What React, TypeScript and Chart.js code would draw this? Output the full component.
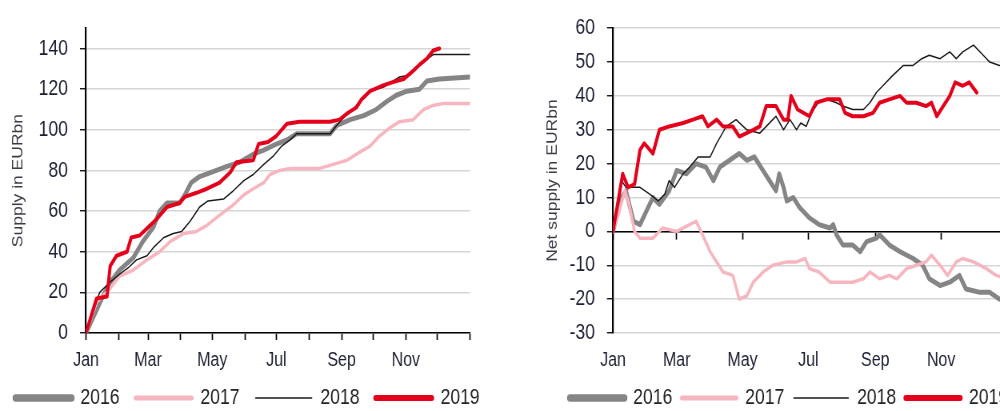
import React, { useEffect, useRef } from 'react';
import { Chart, registerables } from 'chart.js';
Chart.register(...registerables);

// ---------- data ----------
const seriesNames = ['2016', '2017', '2018', '2019'];
const monthStarts = [0, 31, 59, 90, 120, 151, 181, 212, 243, 273, 304, 334, 365];
const monthNames = ['Jan', 'Feb', 'Mar', 'Apr', 'May', 'Jun', 'Jul', 'Aug', 'Sep', 'Oct', 'Nov', 'Dec', ''];
const labelledMonths = ['Jan', 'Mar', 'May', 'Jul', 'Sep', 'Nov'];
const zeroAxisTicks = [0, 59, 120, 181, 243, 304];
const supplyTicks = [0, 20, 40, 60, 80, 100, 120, 140];
const netTicks = [-30, -20, -10, 0, 10, 20, 30, 40, 50, 60];

// Left panel: cumulative supply (EURbn) by day of year
const supply2016Days = [0, 16, 23, 32, 45, 54, 64, 70, 77, 89, 94, 100, 108, 124, 134, 146, 159, 169, 181, 191, 200, 232, 238, 251, 264, 276, 286, 295, 305, 317, 324, 336, 365];
const supply2016Vals = [0, 18, 25, 31, 37, 45, 52, 60, 64, 64, 68, 74, 77, 80, 82, 84, 88, 90, 93, 95, 98, 98, 102, 105, 107, 110, 114, 117, 119, 120, 124, 125, 126];
const supply2017Days = [0, 10, 23, 32, 45, 58, 70, 80, 93, 105, 115, 127, 140, 150, 159, 169, 175, 184, 194, 222, 235, 248, 257, 270, 279, 289, 298, 311, 321, 330, 340, 365];
const supply2017Vals = [0, 15, 22, 28, 31, 36, 40, 45, 49, 50, 53, 58, 63, 68, 71, 74, 78, 80, 81, 81, 83, 85, 88, 92, 97, 101, 104, 105, 110, 112, 113, 113];
const supply2018Days = [0, 13, 23, 32, 40, 48, 58, 64, 74, 83, 91, 99, 108, 116, 131, 140, 150, 159, 169, 178, 186, 194, 200, 232, 238, 245, 254, 260, 270, 283, 298, 308, 317, 330, 365];
const supply2018Vals = [0, 20, 25, 29, 32, 36, 38, 42, 47, 49, 50, 55, 62, 65, 66, 70, 75, 78, 83, 87, 92, 95, 98, 98, 102, 106, 110, 114, 119, 121, 126, 127, 132, 137, 137];
const supply2019Days = [0, 10, 20, 23, 29, 39, 43, 51, 59, 67, 77, 89, 94, 105, 115, 127, 137, 143, 159, 164, 173, 181, 191, 203, 232, 241, 248, 257, 262, 270, 283, 295, 302, 311, 317, 324, 330, 336];
const supply2019Vals = [0, 17, 18, 33, 38, 40, 47, 48, 52, 56, 62, 64, 67, 69, 71, 74, 79, 84, 85, 93, 94, 97, 103, 104, 104, 105, 108, 111, 115, 119, 122, 124, 125, 129, 132, 135, 139, 140];

// Right panel: net supply (EURbn) by day of year
const net2016Days = [0, 8, 12, 19, 25, 31, 37, 43, 52, 59, 68, 77, 86, 93, 99, 108, 117, 124, 131, 139, 145, 151, 154, 158, 161, 167, 173, 182, 191, 201, 204, 207, 213, 222, 229, 235, 244, 247, 256, 266, 278, 287, 293, 303, 312, 321, 327, 340, 349, 358, 365];
const net2016Vals = [0, 10, 12, 3, 2, 6, 10, 8, 12, 18, 17, 20, 19, 15, 19, 21, 23, 21, 22, 18, 15, 12, 17, 13, 9, 10, 7, 4, 2, 1, 2, -1, -4, -4, -6, -3, -2, -1, -4, -6, -8, -10, -14, -16, -15, -13, -17, -18, -18, -20, -20];
const net2017Days = [0, 5, 11, 15, 20, 25, 37, 46, 59, 71, 77, 83, 90, 96, 102, 111, 117, 124, 130, 139, 148, 161, 170, 178, 182, 191, 201, 222, 232, 238, 247, 256, 263, 272, 281, 290, 295, 303, 310, 318, 324, 334, 346, 355, 365];
const net2017Vals = [0, 5, 12, 8, 0, -2, -2, 1, 0, 2, 3, -1, -6, -9, -12, -13, -20, -19, -15, -12, -10, -9, -9, -8, -11, -12, -15, -15, -14, -12, -14, -13, -14, -11, -10, -9, -7, -10, -13, -9, -8, -9, -11, -13, -14];
const net2018Days = [0, 8, 12, 25, 34, 42, 48, 52, 57, 65, 71, 79, 90, 96, 105, 114, 124, 136, 142, 148, 151, 158, 164, 170, 174, 179, 184, 190, 198, 207, 213, 222, 232, 238, 244, 250, 259, 269, 278, 286, 293, 303, 312, 318, 324, 334, 343, 349, 358, 365];
const net2018Vals = [0, 15, 13, 13, 11, 9, 11, 15, 13, 17, 19, 22, 22, 26, 31, 33, 30, 29, 31, 33, 34, 30, 33, 30, 32, 31, 35, 38, 39, 38, 37, 36, 36, 38, 41, 43, 46, 49, 49, 51, 52, 51, 53, 51, 53, 55, 52, 50, 49, 49];
const net2019Days = [0, 9, 14, 20, 25, 29, 37, 43, 52, 65, 74, 83, 88, 96, 102, 111, 117, 130, 136, 142, 151, 158, 162, 165, 171, 182, 188, 198, 210, 215, 222, 232, 241, 247, 256, 266, 272, 281, 290, 295, 300, 306, 312, 317, 324, 330, 337];
const net2019Vals = [0, 17, 13, 14, 24, 26, 23, 30, 31, 32, 33, 34, 31, 33, 31, 31, 28, 30, 31, 37, 37, 33, 33, 40, 36, 34, 38, 39, 39, 35, 34, 34, 35, 38, 39, 40, 38, 38, 37, 38, 34, 37, 40, 44, 43, 44, 41];

// ---------- styles ----------
const FONT = "'Liberation Sans', Arial, sans-serif";
const SQUEEZE = 0.8; // the reference is horizontally condensed
const CANVAS_H = 430;
const lineColors = ['#858585', '#f7b6bf', '#1a1a1a', '#e4001b'];
const lineWidths = [5, 3.5, 1.5, 4];
const legendWidths = [7.5, 5, 1.6, 6];
const drawOrder = [3, 2, 1, 0];
const tickColor = '#1c1f33';
const gridColor = '#d6d6d6';

const pts = (days: number[], vals: number[]) =>
  days.slice(0, Math.min(days.length, vals.length)).map((d, i) => ({ x: d, y: vals[i] }));

function makeDatasets(series: { x: number; y: number }[][]) {
  return series.map((data, i) => ({
    label: seriesNames[i],
    data,
    borderColor: lineColors[i],
    backgroundColor: lineColors[i],
    borderWidth: lineWidths[i],
    borderCapStyle: 'round' as const,
    borderJoinStyle: 'round' as const,
    pointRadius: 0,
    tension: 0,
    fill: false,
    order: drawOrder[i],
  }));
}

function legendOpts(padding: number, lineLen: number, suffix: string) {
  return {
    position: 'bottom' as const,
    align: 'start' as const,
    labels: {
      usePointStyle: true,
      pointStyle: 'line',
      pointStyleWidth: lineLen,
      boxHeight: 22,
      padding,
      color: '#222',
      font: { family: FONT, size: 22 },
      sort: (a: any, b: any) => a.datasetIndex - b.datasetIndex,
      generateLabels: (chart: any) => {
        const items = Chart.defaults.plugins.legend.labels.generateLabels(chart);
        items.forEach((it: any) => {
          it.text = seriesNames[it.datasetIndex] + suffix;
          it.lineWidth = legendWidths[it.datasetIndex];
          it.lineCap = 'round';
          it.pointStyle = 'line';
        });
        return items;
      },
    },
  };
}

const monthLabel = (v: any) => {
  const idx = monthStarts.indexOf(Number(v));
  const name = idx >= 0 ? monthNames[idx] : '';
  return labelledMonths.includes(name) ? name : '';
};

const yTickFont = { family: FONT, size: 22 };
const xTickFont = { family: FONT, size: 20 };
const titleFont = { family: FONT, size: 17.5 };

// an empty spacer axis on the right that keeps the plot narrower than the legend row
const spacerAxis = (w: number) => ({
  position: 'right',
  min: 0,
  max: 1,
  afterFit: (s: any) => { s.width = w; },
  ticks: { display: false },
  grid: { display: false, drawTicks: false },
  border: { display: false },
});

function leftConfig(): any {
  return {
    type: 'line',
    data: {
      datasets: makeDatasets([
        pts(supply2016Days, supply2016Vals),
        pts(supply2017Days, supply2017Vals),
        pts(supply2018Days, supply2018Vals),
        pts(supply2019Days, supply2019Vals),
      ]),
    },
    options: {
      animation: false,
      responsive: false,
      layout: { padding: { left: 5.5, right: 0, top: 23, bottom: 11 } },
      plugins: { legend: legendOpts(14, 70, ' '), tooltip: { enabled: false } },
      scales: {
        x: {
          type: 'linear',
          min: 0,
          max: 365,
          afterBuildTicks: (s: any) => { s.ticks = monthStarts.map((v) => ({ value: v })); },
          afterFit: (s: any) => { s.height = 40; },
          ticks: { autoSkip: false, maxRotation: 0, padding: 8.5, color: tickColor, font: xTickFont, callback: monthLabel },
          grid: { drawOnChartArea: false, tickLength: 7, tickColor: '#000', tickWidth: 1.7 },
          border: { color: '#000', width: 1.6 },
        },
        y: {
          min: 0,
          max: 150,
          afterBuildTicks: (s: any) => { s.ticks = supplyTicks.map((v) => ({ value: v })); },
          afterFit: (s: any) => { s.width = 102; },
          ticks: { padding: 15, color: tickColor, font: yTickFont },
          grid: { color: gridColor, lineWidth: 1.5, tickColor: '#000', tickLength: 7.5, tickWidth: 1.3 },
          border: { color: '#000', width: 2.2 },
          title: { display: true, text: 'Supply in EURbn', color: '#3c3c46', font: titleFont, padding: { top: 6.8, bottom: 0 } },
        },
        yR: spacerAxis(62.5),
      },
    },
  };
}

function rightConfig(): any {
  return {
    type: 'line',
    data: {
      datasets: makeDatasets([
        pts(net2016Days, net2016Vals),
        pts(net2017Days, net2017Vals),
        pts(net2018Days, net2018Vals),
        pts(net2019Days, net2019Vals),
      ]),
    },
    options: {
      animation: false,
      responsive: false,
      layout: { padding: { left: 75.5, right: 0, top: 24, bottom: 11 } },
      plugins: { legend: legendOpts(12, 68, ''), tooltip: { enabled: false } },
      scales: {
        x: {
          type: 'linear',
          min: 0,
          max: 365,
          afterBuildTicks: (s: any) => { s.ticks = monthStarts.map((v) => ({ value: v })); },
          afterFit: (s: any) => { s.height = 42; },
          ticks: { autoSkip: false, maxRotation: 0, padding: 15.5, color: tickColor, font: xTickFont, callback: monthLabel },
          grid: { display: false, drawTicks: false, tickLength: 0 },
          border: { display: false },
        },
        x0: {
          type: 'linear',
          axis: 'x',
          position: { y: 0 },
          min: 0,
          max: 365,
          afterBuildTicks: (s: any) => { s.ticks = zeroAxisTicks.map((v) => ({ value: v })); },
          ticks: { display: false },
          grid: { drawOnChartArea: false, tickLength: 7, tickColor: '#000', tickWidth: 1.7 },
          border: { color: '#000', width: 1.6 },
        },
        y: {
          min: -30,
          max: 60,
          afterBuildTicks: (s: any) => { s.ticks = netTicks.map((v) => ({ value: v })); },
          afterFit: (s: any) => { s.width = 65.75; },
          ticks: { padding: 15, color: tickColor, font: yTickFont },
          grid: { color: gridColor, lineWidth: 1.5, tickColor: '#000', tickLength: 7.5, tickWidth: 1.3 },
          border: { color: '#000', width: 2.2 },
          title: { display: true, text: 'Net supply in EURbn', color: '#3c3c46', font: titleFont, padding: { top: -19.45, bottom: 0 } },
        },
        yR: spacerAxis(46.25),
      },
    },
  };
}

function ChartCanvas({ config, left, width }: { config: () => any; left: number; width: number }) {
  const ref = useRef<HTMLCanvasElement | null>(null);
  useEffect(() => {
    if (!ref.current) return;
    const chart = new Chart(ref.current, config());
    return () => chart.destroy();
  }, [config]);
  return (
    <div
      style={{
        position: 'absolute',
        left,
        top: 0,
        width,
        height: CANVAS_H,
        transform: `scaleX(${SQUEEZE})`,
        transformOrigin: '0 0',
      }}
    >
      <canvas ref={ref} width={width} height={CANVAS_H} style={{ width, height: CANVAS_H, display: 'block' }} />
    </div>
  );
}

export default function App() {
  return (
    <div style={{ position: 'absolute', left: 0, top: 0, width: 1000, height: 411, overflow: 'hidden', background: '#fff' }}>
      <ChartCanvas config={leftConfig} left={0} width={650} />
      <ChartCanvas config={rightConfig} left={500} width={680} />
    </div>
  );
}
